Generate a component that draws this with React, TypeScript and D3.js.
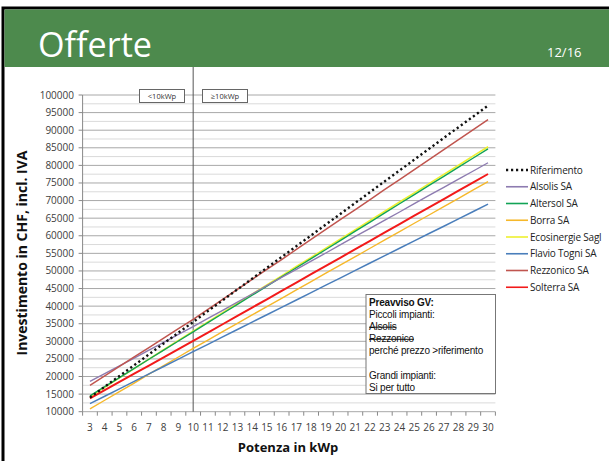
import * as d3 from "d3";

const kwp = [3, 4, 5, 6, 7, 8, 9, 10, 11, 12, 13, 14, 15, 16, 17, 18, 19, 20, 21, 22, 23, 24, 25, 26, 27, 28, 29, 30];

const riferimento = [14000, 17100, 20150, 23200, 26300, 29400, 32450, 35500, 38600, 41650, 44750, 47800, 50900, 53950, 57050, 60100, 63200, 66250, 69350, 72400, 75500, 78550, 81650, 84700, 87800, 90850, 93900, 97000];
const alsolis = [18600, 20800, 23050, 25250, 27500, 29700, 31950, 34150, 36500, 38800, 41150, 43450, 45800, 48150, 50450, 52800, 55100, 57450, 59800, 62100, 64450, 66750, 69100, 71450, 73750, 76100, 78400, 80750];
const altersol = [14500, 17100, 19700, 22300, 24900, 27500, 30100, 32700, 35300, 37900, 40500, 43100, 45700, 48300, 50900, 53500, 56100, 58700, 61300, 63900, 66500, 69100, 71700, 74300, 76900, 79500, 82100, 84700];
const borra = [10800, 13250, 15700, 18150, 20650, 23100, 25550, 28000, 30350, 32750, 35100, 37500, 39850, 42200, 44600, 46950, 49350, 51700, 54050, 56450, 58800, 61200, 63550, 65900, 68300, 70650, 73050, 75400];
const ecosinergie = [14300, 16950, 19600, 22250, 24950, 27600, 30250, 32900, 35500, 38150, 40750, 43400, 46000, 48600, 51250, 53850, 56500, 59100, 61700, 64350, 66950, 69600, 72200, 74800, 77450, 80050, 82700, 85300];
const flavioTogni = [12300, 14400, 16500, 18600, 20750, 22850, 24950, 27050, 29150, 31250, 33350, 35450, 37550, 39650, 41750, 43850, 45950, 48050, 50150, 52250, 54350, 56450, 58550, 60650, 62700, 64800, 66900, 69000];
const rezzonico = [17500, 20200, 22850, 25550, 28200, 30900, 33600, 36250, 39100, 41950, 44750, 47600, 50450, 53250, 56100, 58950, 61800, 64650, 67450, 70300, 73150, 75950, 78800, 81650, 84500, 87300, 90150, 93000];
const solterra = [13800, 16150, 18450, 20800, 23100, 25450, 27750, 30100, 32450, 34850, 37200, 39600, 41950, 44350, 46700, 49100, 51450, 53800, 56200, 58550, 60950, 63300, 65700, 68050, 70400, 72800, 75150, 77550];

const yTicks = [10000, 15000, 20000, 25000, 30000, 35000, 40000, 45000, 50000, 55000, 60000, 65000, 70000, 75000, 80000, 85000, 90000, 95000, 100000];

const series = [
  { name: "Riferimento", values: riferimento, color: "#111", width: 2.4, dash: "2.2 2.8" },
  { name: "Alsolis SA", values: alsolis, color: "#8D7BB0", width: 1.4, dash: null },
  { name: "Altersol SA", values: altersol, color: "#12A356", width: 1.4, dash: null },
  { name: "Borra SA", values: borra, color: "#F6B82A", width: 1.4, dash: null },
  { name: "Ecosinergie Sagl", values: ecosinergie, color: "#EEF030", width: 1.6, dash: null },
  { name: "Flavio Togni SA", values: flavioTogni, color: "#4A7EBB", width: 1.5, dash: null },
  { name: "Rezzonico SA", values: rezzonico, color: "#C0554F", width: 1.5, dash: null },
  { name: "Solterra SA", values: solterra, color: "#F21A1A", width: 2, dash: null },
];

// draw order (reference on top)
const drawOrder = [4, 2, 1, 3, 5, 7, 6, 0];

const noteLines = [
  { t: "Preavviso GV:", bold: true, strike: false },
  { t: "Piccoli impianti:", bold: false, strike: false },
  { t: "Alsolis", bold: false, strike: true },
  { t: "Rezzonico", bold: false, strike: true },
  { t: "perché prezzo >riferimento", bold: false, strike: false },
  { t: "", bold: false, strike: false },
  { t: "Grandi impianti:", bold: false, strike: false },
  { t: "Si per tutto", bold: false, strike: false },
];

const FONT = "'Open Sans', 'Noto Sans', sans-serif";
const NOTE_FONT = "'Liberation Sans', Arial, sans-serif";

export default function App() {
  const W = 609;
  const H = 461;
  const x = d3.scaleBand<number>().domain(kwp).range([82.6, 495.4]);
  const bw = x.bandwidth();
  const cx = (k: number) => (x(k) ?? 0) + bw / 2;
  const y = d3.scaleLinear().domain([10000, 100000]).range([411.7, 95]);
  const line = d3
    .line<number>()
    .x((_, i) => cx(kwp[i]))
    .y((v) => y(v));

  const minor = yTicks.slice(0, -1).map((v) => v + 2500);
  const sepX = cx(10);

  return (
    <svg
      width={W}
      height={H}
      style={{ position: "fixed", left: 0, top: 0, background: "#fff" }}
      fontFamily={FONT}
    >
      {/* frame + header */}
      <rect x={3} y={8} width={W} height={H} fill="none" stroke="#000" strokeWidth={3} />
      <rect x={4.5} y={9.5} width={W} height={57.5} fill="#4D8A4D" />
      <text x={38} y={57} fill="#fff" fontSize={34} textLength={114} lengthAdjust="spacingAndGlyphs">
        Offerte
      </text>
      <text x={547} y={57} fill="#fff" fontSize={13}>
        12/16
      </text>

      {/* gridlines */}
      {minor.map((v) => (
        <line key={"m" + v} x1={82.6} x2={495.4} y1={y(v)} y2={y(v)} stroke="#dadada" strokeWidth={1} />
      ))}
      {yTicks.map((v) => (
        <line key={"g" + v} x1={82.6} x2={495.4} y1={y(v)} y2={y(v)} stroke="#a8a8a8" strokeWidth={1} />
      ))}

      {/* y axis */}
      <line x1={82.6} x2={82.6} y1={95} y2={411.7} stroke="#888" />
      {yTicks.map((v) => (
        <g key={"yt" + v}>
          <line x1={78.6} x2={82.6} y1={y(v)} y2={y(v)} stroke="#888" />
          <text x={74} y={y(v) + 3.5} textAnchor="end" fontSize={10} fill="#404040">
            {v}
          </text>
        </g>
      ))}

      {/* x axis ticks */}
      {kwp.map((k) => (
        <g key={"xt" + k}>
          <line x1={x(k)} x2={x(k)} y1={411.7} y2={415.7} stroke="#888" />
          <text x={cx(k)} y={431} textAnchor="middle" fontSize={10} fill="#404040">
            {k}
          </text>
        </g>
      ))}
      <line x1={495.4} x2={495.4} y1={411.7} y2={415.7} stroke="#888" />

      {/* separator */}
      <line x1={sepX} x2={sepX} y1={67} y2={411.7} stroke="#555" strokeWidth={1} />
      <rect x={139.5} y={89.5} width={45} height={13} fill="#fff" stroke="#666" />
      <text x={162} y={99} textAnchor="middle" fontSize={7.5} fill="#333">
        {"<10kWp"}
      </text>
      <rect x={202.5} y={89.5} width={45} height={13} fill="#fff" stroke="#666" />
      <text x={225} y={99} textAnchor="middle" fontSize={7.5} fill="#333">
        {"≥10kWp"}
      </text>

      {/* series */}
      {drawOrder.map((i) => {
        const s = series[i];
        return (
          <path
            key={s.name}
            d={line(s.values) ?? ""}
            fill="none"
            stroke={s.color}
            strokeWidth={s.width}
            strokeDasharray={s.dash ?? undefined}
          />
        );
      })}

      {/* note box */}
      <rect x={366} y={294.5} width={129.5} height={99} fill="#fff" stroke="#777" />
      {noteLines.map((l, i) => (
        <text
          key={"n" + i}
          x={369}
          y={306 + i * 12.1}
          fontSize={10}
          fontFamily={NOTE_FONT}
          letterSpacing={-0.2}
          fontWeight={l.bold ? "bold" : "normal"}
          textDecoration={l.strike ? "line-through" : undefined}
          fill="#111"
        >
          {l.t}
        </text>
      ))}

      {/* legend */}
      {series.map((s, i) => {
        const ly = 170 + i * 16.75;
        return (
          <g key={"l" + s.name}>
            <line
              x1={506}
              x2={528}
              y1={ly}
              y2={ly}
              stroke={s.color}
              strokeWidth={s.dash ? 2.4 : 1.6}
              strokeDasharray={s.dash ?? undefined}
            />
            <text x={530} y={ly + 3.5} fontSize={10} letterSpacing={-0.2} fill="#222">
              {s.name}
            </text>
          </g>
        );
      })}

      {/* axis titles */}
      <text
        transform={`translate(27,253) rotate(-90)`}
        textAnchor="middle"
        fontSize={14}
        fontWeight="bold"
        fill="#111"
      >
        Investimento in CHF, incl. IVA
      </text>
      <text x={288} y={452} textAnchor="middle" fontSize={13} fontWeight="bold" fill="#111">
        Potenza in kWp
      </text>
    </svg>
  );
}
